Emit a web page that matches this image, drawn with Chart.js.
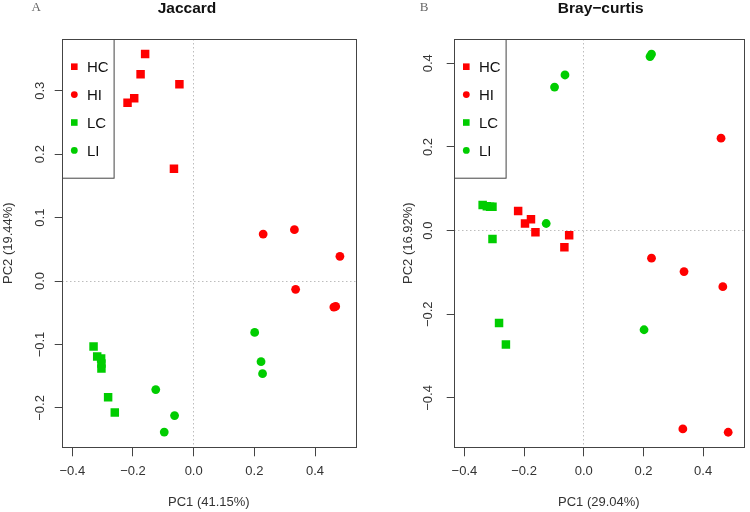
<!DOCTYPE html>
<html>
<head>
<meta charset="utf-8">
<script src="https://cdn.jsdelivr.net/npm/chart.js@4"></script>
<style>
  body { margin: 0; background: #fff; }
  .wrap { display: flex; width: 750px; height: 512px; }
  canvas { display: block; }
</style>
</head>
<body>
<div class="wrap">
  <canvas id="jaccard" width="375" height="512"></canvas>
  <canvas id="bray" width="375" height="512"></canvas>
</div>
<script>
const groups = ['HC', 'HI', 'LC', 'LI'];
const groupColors = ['#ff0000', '#ff0000', '#00cd00', '#00cd00'];
const groupShapes = ['rect', 'circle', 'rect', 'circle'];

// PCoA coordinates [PC1, PC2]
const jaccardHC = [[-0.160, 0.358], [-0.175, 0.326], [-0.047, 0.310], [-0.196, 0.288], [-0.218, 0.281], [-0.065, 0.177]];
const jaccardHI = [[0.229, 0.074], [0.332, 0.081], [0.482, 0.039], [0.336, -0.013], [0.462, -0.041], [0.468, -0.040]];
const jaccardLC = [[-0.330, -0.103], [-0.318, -0.119], [-0.305, -0.122], [-0.304, -0.130], [-0.304, -0.138], [-0.282, -0.183], [-0.260, -0.207]];
const jaccardLI = [[0.201, -0.081], [0.222, -0.127], [0.227, -0.146], [-0.125, -0.171], [-0.063, -0.212], [-0.097, -0.238]];

const brayHC = [[-0.220, 0.047], [-0.197, 0.017], [-0.177, 0.027], [-0.162, -0.004], [-0.049, -0.011], [-0.065, -0.040]];
const brayHI = [[0.460, 0.221], [0.227, -0.066], [0.336, -0.098], [0.466, -0.134], [0.332, -0.474], [0.484, -0.482]];
const brayLC = [[-0.339, 0.061], [-0.325, 0.058], [-0.314, 0.057], [-0.306, 0.057], [-0.306, -0.020], [-0.284, -0.221], [-0.261, -0.272]];
const brayLI = [[0.227, 0.422], [0.222, 0.416], [-0.063, 0.372], [-0.098, 0.343], [-0.126, 0.017], [0.202, -0.237]];

const xTickVals = [-0.4, -0.2, 0, 0.2, 0.4];
const xTickLabels = ['\u22120.4', '\u22120.2', '0.0', '0.2', '0.4'];
const jaccardYVals = [-0.2, -0.1, 0, 0.1, 0.2, 0.3];
const jaccardYLabels = ['\u22120.2', '\u22120.1', '0.0', '0.1', '0.2', '0.3'];
const brayYVals = [-0.4, -0.2, 0, 0.2, 0.4];
const brayYLabels = ['\u22120.4', '\u22120.2', '0.0', '0.2', '0.4'];

const FONT = "'Liberation Sans', Arial, sans-serif";

// box, title, panel letter and legend drawn here (zero lines come from the scales)
const decor = {
  id: 'decor',
  afterDraw(chart, args, o) {
    const c = chart.ctx, a = chart.chartArea;
    c.save();
    c.fillStyle = '#111';
    c.font = 'bold 15.5px ' + FONT;
    c.textAlign = 'center';
    c.textBaseline = 'middle';
    c.fillText(o.title, o.titleX, 9);
    c.fillStyle = '#666';
    c.font = "13px 'Liberation Serif', 'DejaVu Serif', serif";
    c.fillText(o.letter, o.letterX, 8);

    c.strokeStyle = '#444';
    c.lineWidth = 1;
    c.strokeRect(Math.round(a.left) + 0.5, Math.round(a.top) + 0.5, Math.round(a.right - a.left), Math.round(a.bottom - a.top));
    // legend
    c.strokeRect(Math.round(a.left) + 0.5, Math.round(a.top) + 0.5, 51.6, 138.7);
    c.font = '15px ' + FONT;
    c.textAlign = 'left';
    groups.forEach((g, i) => {
      const y = a.top + 27.7 + i * 27.9;
      c.fillStyle = groupColors[i];
      if (groupShapes[i] === 'rect') {
        c.fillRect(a.left + 12.6 - 3.3, y - 3.3, 6.6, 6.6);
      } else {
        c.beginPath();
        c.arc(a.left + 12.6, y, 3.4, 0, Math.PI * 2);
        c.fill();
      }
      c.fillStyle = '#111';
      c.fillText(g, a.left + 25.3, y + 1);
    });
    c.restore();
  }
};

function zeroGrid(len) {
  return {
    color: c => (c.tick && c.tick.value === 0 ? '#bdbdbd' : 'rgba(0,0,0,0)'),
    tickColor: '#444',
    tickLength: len,
    tickBorderDash: [],
    lineWidth: 1,
  };
}

function makeChart(id, sets, opt) {
  const datasets = sets.map((pts, i) => ({
    label: groups[i],
    data: pts.map(p => ({ x: p[0], y: p[1] })),
    pointStyle: groupShapes[i],
    backgroundColor: groupColors[i],
    borderColor: groupColors[i],
    borderWidth: 0,
    pointRadius: groupShapes[i] === 'rect' ? 6 : 4.4,
  }));
  return new Chart(document.getElementById(id), {
    type: 'scatter',
    data: { datasets: datasets },
    plugins: [decor],
    options: {
      responsive: false,
      animation: false,
      events: [],
      layout: { padding: { top: 39, right: opt.padRight, left: 0, bottom: 0 } },
      plugins: {
        legend: { display: false },
        tooltip: { enabled: false },
        decor: { title: opt.title, titleX: opt.titleX, letter: opt.letter, letterX: opt.letterX },
      },
      scales: {
        x: {
          type: 'linear',
          position: 'bottom',
          min: opt.xMin, max: opt.xMax,
          afterBuildTicks: s => { s.ticks = xTickVals.map(v => ({ value: v })); },
          afterFit: s => { s.height = 64.7; },
          ticks: {
            callback: (v, i) => xTickLabels[i],
            font: { family: FONT, size: 13 },
            color: '#333',
            padding: 7.6,
            maxRotation: 0,
          },
          grid: zeroGrid(9),
          border: { display: false, dash: [1.5, 2.5] },
          title: {
            display: true, text: opt.xTitle,
            font: { family: FONT, size: 13 }, color: '#333',
            padding: { top: 0, bottom: 1.5 },
          },
        },
        y: {
          type: 'linear',
          position: 'left',
          min: opt.yMin, max: opt.yMax,
          afterBuildTicks: s => { s.ticks = opt.yVals.map(v => ({ value: v })); },
          afterFit: s => { s.width = opt.yWidth; },
          ticks: {
            callback: (v, i) => opt.yLabels[i],
            font: { family: FONT, size: 13 },
            color: '#333',
            padding: opt.yPad,
            minRotation: 90, maxRotation: 90,
            crossAlign: 'center',
          },
          grid: zeroGrid(7),
          border: { display: false, dash: [1.5, 2.5] },
          title: {
            display: true, text: opt.yTitle,
            font: { family: FONT, size: 13 }, color: '#333',
            padding: { top: opt.yTitlePad, bottom: 0 },
          },
        },
      },
    },
  });
}

makeChart('jaccard', [jaccardHC, jaccardHI, jaccardLC, jaccardLI], {
  title: 'Jaccard', titleX: 187, letter: 'A', letterX: 36.3,
  xTitle: 'PC1 (41.15%)', yTitle: 'PC2 (19.44%)',
  xMin: -0.435, xMax: 0.535, yMin: -0.262, yMax: 0.3815,
  yVals: jaccardYVals, yLabels: jaccardYLabels,
  yWidth: 61.7, yPad: 1.8, yTitlePad: 0.5, padRight: 19,
});

makeChart('bray', [brayHC, brayHI, brayLC, brayLI], {
  title: 'Bray\u2212curtis', titleX: 225.7, letter: 'B', letterX: 49,
  xTitle: 'PC1 (29.04%)', yTitle: 'PC2 (16.92%)',
  xMin: -0.436, xMax: 0.537, yMin: -0.518, yMax: 0.458,
  yVals: brayYVals, yLabels: brayYLabels,
  yWidth: 78.7, yPad: 5.5, yTitlePad: 25.5, padRight: 2,
});
</script>
</body>
</html>
